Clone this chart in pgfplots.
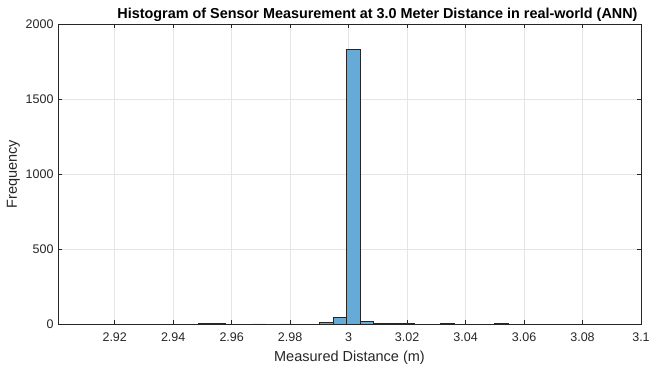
\documentclass[border=0pt]{standalone}
\usepackage{pgfplots}
\pgfplotsset{compat=1.18}
\usepackage{fontspec}
\setmainfont{Liberation Sans}
\definecolor{barface}{rgb}{0.4,0.668,0.845}
\definecolor{axgray}{rgb}{0.15,0.15,0.15}
\definecolor{gridgray}{rgb}{0.9,0.9,0.9}
\begin{document}
\begin{tikzpicture}
\begin{axis}[
  scale only axis,
  width=583pt, height=300pt,
  xmin=2.9006, xmax=3.1,
  ymin=0, ymax=2000,
  xtick={2.92,2.94,2.96,2.98,3,3.02,3.04,3.06,3.08,3.1},
  xticklabels={2.92,2.94,2.96,2.98,3,3.02,3.04,3.06,3.08,3.1},
  ytick={0,500,1000,1500,2000},
  yticklabels={0,500,1000,1500,2000},
  tick align=inside,
  major tick length=4pt,
  grid=major,
  major grid style={gridgray, line width=0.5pt},
  axis line style={axgray, line width=0.5pt},
  tick style={axgray, line width=0.5pt},
  ticklabel style={font=\fontsize{12.5}{14}\selectfont, text=axgray},
  xticklabel style={yshift=-5pt},
  yticklabel style={xshift=-1pt},
  xlabel={Measured Distance (m)},
  ylabel={Frequency},
  label style={font=\fontsize{14.5}{16}\selectfont, text=axgray},
  xlabel style={yshift=-3pt},
  ylabel style={yshift=-1pt},
  title={\bfseries Histogram of Sensor Measurement at 3.0 Meter Distance in real-world (ANN)},
  title style={font=\fontsize{14.4}{16}\selectfont, yshift=-7pt, xshift=28pt},
]
\addplot[ybar, bar width=0.0046, bar shift=0pt, fill=barface, draw=axgray, line width=0.5pt]
coordinates {
(2.95098,2) (2.95558,2) (2.96938,1) (2.97858,1)
(2.99238,11) (2.99698,45) (3.00158,1832) (3.00618,20)
(3.01078,4) (3.01538,4) (3.01998,2) (3.03378,2) (3.05218,2)
};
\end{axis}
\pgfresetboundingbox
\path[use as bounding box] ([xshift=-58pt,yshift=-42pt]current axis.south west) rectangle ([xshift=11pt,yshift=24pt]current axis.north east);
\end{tikzpicture}
\end{document}
